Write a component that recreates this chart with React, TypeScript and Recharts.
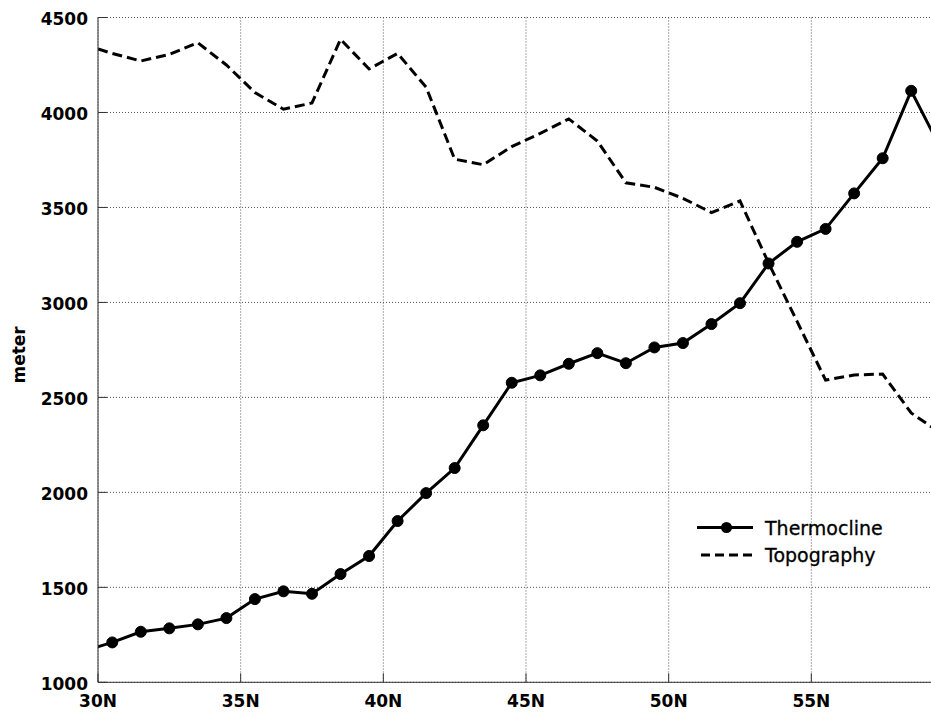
import React from 'react';
import { LineChart, Line, XAxis, YAxis, CartesianGrid, Legend } from 'recharts';

const latitudes = [
  29.5, 30.5, 31.5, 32.5, 33.5, 34.5, 35.5, 36.5, 37.5, 38.5, 39.5, 40.5, 41.5, 42.5, 43.5, 44.5,
  45.5, 46.5, 47.5, 48.5, 49.5, 50.5, 51.5, 52.5, 53.5, 54.5, 55.5, 56.5, 57.5, 58.5, 59.5,
];
const thermocline = [
  1164, 1210, 1266, 1284, 1305, 1338, 1438, 1479, 1466, 1570, 1665, 1849, 1996, 2128, 2353, 2577,
  2616, 2677, 2733, 2680, 2763, 2786, 2886, 2996, 3205, 3319, 3387, 3574, 3759, 4114, 3820,
];
const topography = [
  4357, 4311, 4271, 4306, 4367, 4250, 4105, 4017, 4050, 4385, 4229, 4311, 4133, 3754, 3725, 3820,
  3890, 3966, 3850, 3630, 3606, 3548, 3473, 3534, 3208, 2900, 2591, 2618, 2623, 2418, 2315,
];
const xTicks = [30, 35, 40, 45, 50, 55];
const yTicks = [1000, 1500, 2000, 2500, 3000, 3500, 4000, 4500];

const data = latitudes.map((lat, i) => ({
  lat,
  thermocline: thermocline[i],
  topography: topography[i],
}));

const FONT = '"DejaVu Sans", sans-serif';
const AXIS_COLOR = '#333';
const TICK_LEN = 9;

const BottomTick = (props: any) => {
  const { x, y, payload } = props;
  return (
    <g>
      <line x1={x} x2={x} y1={y} y2={y - TICK_LEN} stroke={AXIS_COLOR} strokeWidth={1} />
      <text x={x} y={y + 25} textAnchor="middle" fontFamily={FONT} fontWeight="bold" fontSize={17} fill="#000">
        {`${payload.value}N`}
      </text>
    </g>
  );
};

const TopTick = (props: any) => {
  const { x, y } = props;
  return <line x1={x} x2={x} y1={y} y2={y + TICK_LEN} stroke={AXIS_COLOR} strokeWidth={1} />;
};

const LeftTick = (props: any) => {
  const { x, y, payload } = props;
  return (
    <g>
      <line x1={x} x2={x + TICK_LEN} y1={y} y2={y} stroke={AXIS_COLOR} strokeWidth={1} />
      <text x={x - 10} y={y + 7.5} textAnchor="end" fontFamily={FONT} fontWeight="bold" fontSize={17} fill="#000">
        {payload.value}
      </text>
    </g>
  );
};

const YLabel = (props: any) => {
  const { viewBox } = props;
  const cx = viewBox.x + 19;
  const cy = viewBox.y + viewBox.height / 2 + 5;
  return (
    <text
      x={cx}
      y={cy}
      transform={`rotate(-90, ${cx}, ${cy})`}
      textAnchor="middle"
      dominantBaseline="central"
      fontFamily={FONT}
      fontWeight="bold"
      fontSize={17}
      fill="#000"
    >
      meter
    </text>
  );
};

const LegendContent = (props: any) => {
  const { payload } = props;
  const rows = payload || [];
  return (
    <svg width={220} height={60} style={{ display: 'block' }}>
      {rows.map((entry: any, i: number) => {
        const cy = i === 0 ? 15.5 : 43;
        const dashed = entry.value === 'Topography';
        return (
          <g key={entry.value}>
            {dashed ? (
              <line x1={11} x2={63} y1={cy} y2={cy} stroke="#000" strokeWidth={3} strokeDasharray="9 5" />
            ) : (
              <>
                <line x1={7} x2={63} y1={cy} y2={cy} stroke="#000" strokeWidth={3} />
                <circle cx={36.5} cy={cy} r={5.5} fill="#000" />
              </>
            )}
            <text x={75} y={cy + 7} fontFamily={FONT} fontSize={19} fill="#000" stroke="#000" strokeWidth={0.3}>
              {entry.value}
            </text>
          </g>
        );
      })}
    </svg>
  );
};

export default function App() {
  return (
    <div
      style={{
        position: 'absolute',
        left: 0,
        top: 0,
        width: 931,
        height: 717,
        overflow: 'hidden',
        background: '#fff',
      }}
    >
      <LineChart
        width={970}
        height={717}
        data={data}
        margin={{ top: 17.5, right: 16, bottom: 0, left: 0 }}
      >
        <CartesianGrid stroke="#555" strokeDasharray="1 2" strokeWidth={1} />
        <XAxis
          dataKey="lat"
          type="number"
          domain={[30, 60]}
          ticks={xTicks}
          allowDataOverflow
          height={34.7}
          tickLine={false}
          tickSize={0}
          tickMargin={0}
          axisLine={{ stroke: AXIS_COLOR, strokeWidth: 1 }}
          tick={<BottomTick />}
          interval={0}
        />
        <XAxis
          xAxisId="top"
          orientation="top"
          dataKey="lat"
          type="number"
          domain={[30, 60]}
          ticks={xTicks}
          allowDataOverflow
          height={0}
          tickLine={false}
          tickSize={0}
          tickMargin={0}
          axisLine={{ stroke: AXIS_COLOR, strokeWidth: 1 }}
          tick={<TopTick />}
          interval={0}
        />
        <YAxis
          type="number"
          domain={[1000, 4500]}
          ticks={yTicks}
          allowDataOverflow
          width={98}
          tickLine={false}
          tickSize={0}
          tickMargin={0}
          axisLine={{ stroke: AXIS_COLOR, strokeWidth: 1 }}
          tick={<LeftTick />}
          interval={0}
          label={<YLabel />}
        />
        <Legend
          layout="horizontal"
          align="center"
          verticalAlign="middle"
          content={<LegendContent />}
          wrapperStyle={{ position: 'absolute', left: 690, top: 512, width: 220, height: 60 }}
        />
        <Line
          name="Thermocline"
          dataKey="thermocline"
          stroke="#000"
          strokeWidth={3}
          dot={{ r: 5.5, fill: '#000', stroke: '#000', strokeWidth: 1 }}
          activeDot={false}
          isAnimationActive={false}
        />
        <Line
          name="Topography"
          dataKey="topography"
          stroke="#000"
          strokeWidth={3}
          strokeDasharray="10 5"
          dot={false}
          activeDot={false}
          isAnimationActive={false}
        />
      </LineChart>
    </div>
  );
}
